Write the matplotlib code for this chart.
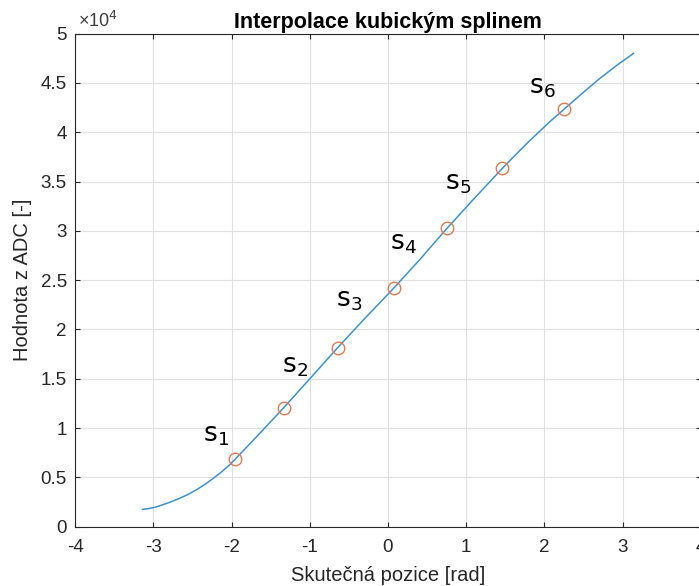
import numpy as np
import matplotlib
matplotlib.use('Agg')
import matplotlib.pyplot as plt
from matplotlib.ticker import FuncFormatter

# values
curve_x = [-3.14, -3.06, -2.98, -2.875, -2.77, -2.66, -2.55, -2.445, -2.34, -2.235,
           -2.13, -2.04, -1.955, -1.82, -1.68, -1.333, -0.99, -0.645, -0.30, 0.072,
           0.41, 0.755, 1.10, 1.458, 1.63, 1.80, 2.06, 2.258, 2.48, 2.70,
           2.92, 3.14]
curve_y = [1750, 1840, 1970, 2240, 2540, 2900, 3300, 3770, 4300, 4900,
           5550, 6170, 6840, 7960, 9130, 12070, 15090, 18140, 21090, 24180,
           27120, 30260, 33260, 36300, 37700, 39050, 41000, 42380, 43920, 45400,
           46750, 48000]

point_x = [-1.955, -1.333, -0.645, 0.072, 0.755, 1.458, 2.258]
point_y = [6840, 12060, 18150, 24180, 30260, 36330, 42380]

label_text = ['s$_1$', 's$_2$', 's$_3$', 's$_4$', 's$_5$', 's$_6$']
label_x = [-2.37, -1.36, -0.67, 0.03, 0.73, 1.81]
label_y = [8620, 15660, 22380, 28130, 34150, 43950]

plt.rcParams['font.family'] = ['Liberation Sans', 'DejaVu Sans']
plt.rcParams['axes.unicode_minus'] = False

fig = plt.figure(figsize=(6.99, 5.86), dpi=100)
ax = fig.add_axes([0.1077, 0.1012, 0.8947, 0.8413])

ax.plot(curve_x, curve_y, color='#3a93d3', lw=1.1, zorder=3)
ax.plot(point_x, point_y, 'o', mfc='none', mec='#e57a4e', ms=9, mew=1.0, zorder=4)

for t, x, y in zip(label_text, label_x, label_y):
    ax.text(x, y, t, fontsize=19, family='DejaVu Sans', ha='left', va='baseline', color='black')

ax.set_xlim(-4, 4)
ax.set_ylim(0, 50000)
ax.set_xticks(np.arange(-4, 5, 1))
ax.set_yticks(np.arange(0, 50001, 5000))
ax.yaxis.set_major_formatter(FuncFormatter(lambda v, p: f'{v/1e4:g}'))
ax.text(0.004, 1.006, '×10$^4$', transform=ax.transAxes, fontsize=13, color='#404040',
        ha='left', va='bottom')

ax.grid(True, color='#e0e0e0', lw=0.8)
ax.set_axisbelow(True)
for s in ax.spines.values():
    s.set_color('#262626')
    s.set_linewidth(0.8)
ax.tick_params(direction='in', length=3.5, width=0.8, top=True, right=True,
               labelsize=13.5, colors='#262626', labelcolor='#262626')
ax.tick_params(axis='x', pad=9)
ax.tick_params(axis='y', pad=6)

ax.set_title('Interpolace kubickým splinem', fontsize=15.5, fontweight='bold', pad=4)
ax.set_xlabel('Skutečná pozice [rad]', fontsize=14.5, color='#262626', labelpad=7)
ax.set_ylabel('Hodnota z ADC [-]', fontsize=14.5, color='#262626', labelpad=6)

fig.savefig('out.png', dpi=100)
